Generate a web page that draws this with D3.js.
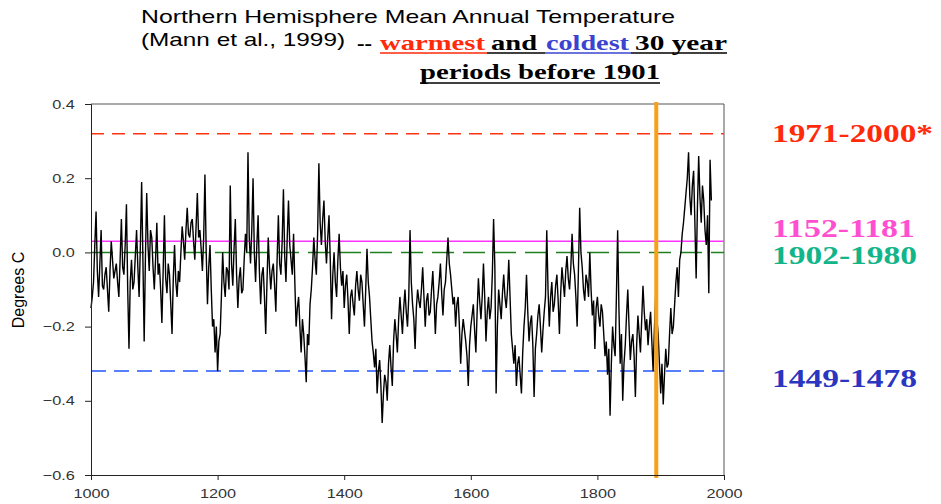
<!DOCTYPE html>
<html>
<head>
<meta charset="utf-8">
<script src="https://cdn.jsdelivr.net/npm/d3@7"></script>
<style>
  body { margin: 0; background: #fff; }
  svg { display: block; }
</style>
</head>
<body>
<svg id="chart" width="941" height="504"></svg>
<script>
// temperature anomaly, every 2 years from 1000
const startYear = 1000;
const stepYears = 2;
const temps = [
  -0.15, -0.12, -0.08, 0.02, 0.11, -0.05, -0.12, -0.03, 0.06, -0.09,
  -0.10, -0.06, -0.04, -0.10, -0.16, -0.05, 0.03, -0.02, -0.07, -0.05,
  -0.03, -0.08, -0.12, -0.02, 0.09, -0.04, -0.06, 0.02, 0.13, -0.10,
  -0.26, -0.08, -0.02, -0.10, -0.08, -0.01, 0.06, -0.04, -0.12, 0.02,
  0.19, -0.02, -0.24, -0.01, 0.16, 0.02, -0.05, 0.06, 0.04, -0.04,
  -0.10, -0.02, 0.08, -0.06, -0.03, -0.10, -0.19, -0.05, 0.10, -0.07,
  -0.11, -0.03, -0.06, -0.14, -0.22, -0.07, 0.02, -0.08, -0.12, -0.05,
  -0.08, 0.00, 0.07, 0.03, -0.02, 0.06, 0.12, 0.05, 0.04, 0.08,
  0.09, 0.03, -0.02, 0.07, 0.16, 0.04, 0.06, 0.01, -0.05, 0.04,
  0.21, 0.00, -0.14, -0.04, 0.02, -0.10, -0.20, -0.18, -0.27, -0.20,
  -0.32, -0.24, -0.22, -0.12, 0.00, -0.08, -0.12, -0.04, -0.05, -0.10,
  0.18, -0.03, -0.09, 0.01, 0.09, -0.06, -0.15, -0.07, -0.04, -0.11,
  -0.10, -0.02, 0.05, 0.00, 0.27, 0.04, -0.03, 0.06, 0.20, 0.00,
  -0.08, 0.02, 0.10, -0.05, -0.14, -0.06, -0.04, -0.12, -0.22, -0.08,
  0.04, -0.04, -0.10, -0.05, -0.03, -0.09, -0.16, -0.02, 0.10, -0.03,
  -0.06, 0.03, 0.17, -0.01, -0.08, 0.04, 0.14, 0.02, -0.02, -0.06,
  0.05, -0.08, -0.20, -0.15, -0.12, -0.20, -0.27, -0.18, -0.22, -0.28,
  -0.35, -0.22, -0.25, -0.14, -0.10, -0.04, 0.04, -0.02, -0.06, 0.05,
  0.24, 0.08, 0.02, 0.09, 0.14, 0.03, -0.03, 0.04, 0.10, -0.02,
  -0.18, -0.06, 0.00, -0.08, -0.12, -0.02, 0.05, -0.04, -0.09, -0.05,
  -0.15, -0.09, -0.06, -0.13, -0.22, -0.12, -0.10, -0.14, -0.17, -0.09,
  -0.05, -0.10, -0.13, -0.06, -0.08, -0.14, -0.20, -0.10, 0.01, -0.08,
  -0.12, -0.18, -0.24, -0.27, -0.31, -0.26, -0.38, -0.32, -0.29, -0.36,
  -0.46, -0.38, -0.33, -0.35, -0.40, -0.30, -0.25, -0.31, -0.36, -0.24,
  -0.18, -0.22, -0.27, -0.18, -0.12, -0.17, -0.22, -0.15, -0.10, -0.16,
  -0.20, -0.12, 0.06, -0.08, -0.14, -0.18, -0.26, -0.15, -0.10, -0.13,
  -0.15, -0.10, -0.04, -0.12, -0.20, -0.13, -0.11, -0.17, -0.16, -0.10,
  -0.05, -0.13, -0.22, -0.14, -0.12, -0.08, -0.03, -0.11, -0.17, -0.10,
  -0.08, -0.02, 0.04, -0.03, -0.06, -0.10, -0.14, -0.12, -0.20, -0.14,
  -0.12, -0.20, -0.30, -0.22, -0.18, -0.21, -0.24, -0.28, -0.36, -0.25,
  -0.20, -0.17, -0.14, -0.21, -0.27, -0.16, -0.07, -0.13, -0.18, -0.12,
  -0.03, -0.12, -0.24, -0.16, -0.12, -0.18, -0.15, -0.06, 0.09, -0.04,
  -0.38, -0.20, -0.10, -0.14, -0.18, -0.11, -0.06, -0.12, -0.15, -0.10,
  -0.02, -0.12, -0.22, -0.26, -0.30, -0.25, -0.36, -0.30, -0.28, -0.33,
  -0.38, -0.27, -0.20, -0.15, -0.06, -0.16, -0.24, -0.19, -0.17, -0.25,
  -0.39, -0.26, -0.22, -0.17, -0.14, -0.20, -0.27, -0.21, -0.16, -0.12,
  0.06, -0.10, -0.20, -0.12, -0.08, -0.16, -0.14, -0.09, -0.06, -0.13,
  -0.22, -0.11, -0.04, -0.08, -0.12, -0.05, -0.01, -0.07, -0.10, -0.04,
  0.05, -0.03, -0.06, -0.12, -0.20, -0.05, 0.12, 0.00, -0.04, -0.10,
  -0.13, -0.06, -0.08, -0.12, 0.00, -0.10, -0.17, -0.13, -0.26, -0.15,
  -0.12, -0.17, -0.20, -0.14, -0.16, -0.22, -0.28, -0.24, -0.33, -0.26,
  -0.44, -0.30, -0.20, -0.25, -0.28, -0.12, 0.06, -0.15, -0.30, -0.22,
  -0.40, -0.30, -0.25, -0.17, -0.10, -0.20, -0.29, -0.24, -0.22, -0.28,
  -0.39, -0.25, -0.17, -0.22, -0.27, -0.18, -0.09, -0.16, -0.21, -0.18,
  -0.25, -0.20, -0.16, -0.24, -0.32, -0.21, -0.12, -0.18, -0.22, -0.30,
  -0.38, -0.30, -0.41, -0.33, -0.26, -0.31, -0.30, -0.22, -0.15, -0.22,
  -0.20, -0.14, -0.08, -0.04, -0.12, -0.02, 0.00, 0.05, 0.08, 0.12,
  0.16, 0.20, 0.27, 0.15, 0.10, 0.18, 0.22, 0.08, -0.07, 0.12,
  0.26, 0.15, 0.08, 0.18, 0.14, 0.06, 0.02, 0.10, -0.11, 0.25,
  0.14
];

// 30 year period means shown as horizontal reference lines
const periodLabels = ['1971-2000*', '1152-1181', '1902-1980', '1449-1478'];
const periodMeans = [0.32, 0.03, 0.0, -0.32];

const markerYear = 1893;

const xTicks = [1000, 1200, 1400, 1600, 1800, 2000];
const yTicks = [-0.6, -0.4, -0.2, 0.0, 0.2, 0.4];

const svg = d3.select('#chart');

const xScale = d3.scaleLinear().domain([1000, 2000]).range([91, 724]);
const yScale = d3.scaleLinear().domain([-0.6, 0.4]).range([475, 104]);

const series = temps.map((t, i) => ({ year: startYear + i * stepYears, t: t }));

// frame (top and right)
svg.append('path')
  .attr('d', 'M91,104H724V475')
  .attr('fill', 'none')
  .attr('stroke', '#555')
  .attr('stroke-width', 1);

// reference lines
const lineStyles = [
  { color: '#ff3311', dash: '13,8', width: 1.5 },
  { color: '#ff33ff', dash: null, width: 1.5 },
  { color: '#1f7f1f', dash: '22,9', width: 1.5 },
  { color: '#2255ff', dash: '15,8', width: 1.5 },
];

svg.selectAll('.ref')
  .data(periodMeans)
  .enter()
  .append('line')
  .classed('ref', true)
  .attr('x1', xScale(1000))
  .attr('x2', xScale(2000))
  .attr('y1', d => yScale(d))
  .attr('y2', d => yScale(d))
  .attr('stroke', (d, i) => lineStyles[i].color)
  .attr('stroke-width', (d, i) => lineStyles[i].width)
  .attr('stroke-dasharray', (d, i) => lineStyles[i].dash);

// temperature line
const line = d3.line()
  .x(d => xScale(d.year))
  .y(d => yScale(d.t));

svg.append('path')
  .datum(series)
  .attr('d', line)
  .attr('fill', 'none')
  .attr('stroke', '#000')
  .attr('stroke-width', 1.4)
  .attr('stroke-linejoin', 'miter');

// orange marker
svg.append('line')
  .attr('x1', xScale(markerYear))
  .attr('x2', xScale(markerYear))
  .attr('y1', 102)
  .attr('y2', 478)
  .attr('stroke', '#f9a01b')
  .attr('stroke-width', 4);

// axes
const xAxis = d3.axisBottom(xScale).tickValues(xTicks).tickSize(5).tickPadding(9).tickFormat(d3.format('d'));
const yAxis = d3.axisLeft(yScale).tickValues(yTicks).tickSize(6).tickPadding(7).tickFormat(d3.format('.1f'));

const gx = svg.append('g')
  .attr('transform', 'translate(0,475)')
  .call(xAxis);

const gy = svg.append('g')
  .attr('transform', 'translate(91,0)')
  .call(yAxis);

[gx, gy].forEach(g => {
  g.selectAll('path, line').attr('stroke', '#222');
  g.selectAll('text')
    .attr('fill', '#333')
    .style('font-family', 'Arial, "Liberation Sans", sans-serif')
    .style('font-size', '13px')
    .attr('transform', 'scale(1.25,1)');
});

svg.append('text')
  .attr('transform', 'translate(24,290) rotate(-90)')
  .style('text-anchor', 'middle')
  .style('font-family', 'Arial, "Liberation Sans", sans-serif')
  .style('font-size', '16px')
  .attr('fill', '#000')
  .text('Degrees C');

// period labels on the right
const labelColors = ['#ff2a0a', '#ff4fd0', '#12b589', '#2a35c0'];
const labelBaselines = [142, 237, 264, 387];
const labelWidths = [161, 143, 145, 145];

svg.selectAll('.period')
  .data(periodLabels)
  .enter()
  .append('text')
  .classed('period', true)
  .attr('x', 772)
  .attr('y', (d, i) => labelBaselines[i])
  .attr('textLength', (d, i) => labelWidths[i])
  .attr('lengthAdjust', 'spacingAndGlyphs')
  .style('font-family', '"Liberation Serif", "Times New Roman", serif')
  .style('font-weight', 'bold')
  .style('font-size', '25px')
  .attr('fill', (d, i) => labelColors[i])
  .text(d => d);

// title
const sans = 'Arial, "Liberation Sans", sans-serif';
const serif = '"Liberation Serif", "Times New Roman", serif';

svg.append('text')
  .attr('x', 141).attr('y', 23)
  .attr('textLength', 534).attr('lengthAdjust', 'spacingAndGlyphs')
  .style('font-family', sans).style('font-size', '19px')
  .text('Northern Hemisphere Mean Annual Temperature');

svg.append('text')
  .attr('x', 141).attr('y', 46)
  .attr('textLength', 204).attr('lengthAdjust', 'spacingAndGlyphs')
  .style('font-family', sans).style('font-size', '19px')
  .text('(Mann et al., 1999)');

const titleParts = [
  { text: '--', x: 357, w: 15, color: '#000', y: 50 },
  { text: 'warmest', x: 380, w: 105, color: '#ff2a0a', y: 50 },
  { text: 'and', x: 491, w: 46, color: '#000', y: 50 },
  { text: 'coldest', x: 546, w: 83, color: '#3a44d0', y: 50 },
  { text: '30 year', x: 635, w: 92, color: '#000', y: 50 },
  { text: 'periods before 1901', x: 420, w: 240, color: '#000', y: 79 },
];

titleParts.forEach(p => {
  svg.append('text')
    .attr('x', p.x).attr('y', p.y)
    .attr('textLength', p.w).attr('lengthAdjust', 'spacingAndGlyphs')
    .style('font-family', serif).style('font-weight', 'bold').style('font-size', '21px')
    .attr('fill', p.color)
    .text(p.text);
});

// underlines, coloured like the words above them
const underlines = [
  { x1: 380, x2: 487, color: '#ff2a0a', y: 53 },
  { x1: 487, x2: 545, color: '#000', y: 53 },
  { x1: 545, x2: 631, color: '#3a44d0', y: 53 },
  { x1: 631, x2: 727, color: '#000', y: 53 },
  { x1: 420, x2: 660, color: '#000', y: 83 },
];

svg.selectAll('.uline')
  .data(underlines)
  .enter()
  .append('line')
  .classed('uline', true)
  .attr('x1', d => d.x1)
  .attr('x2', d => d.x2)
  .attr('y1', d => d.y)
  .attr('y2', d => d.y)
  .attr('stroke', d => d.color)
  .attr('stroke-width', 1.5);
</script>
</body>
</html>
